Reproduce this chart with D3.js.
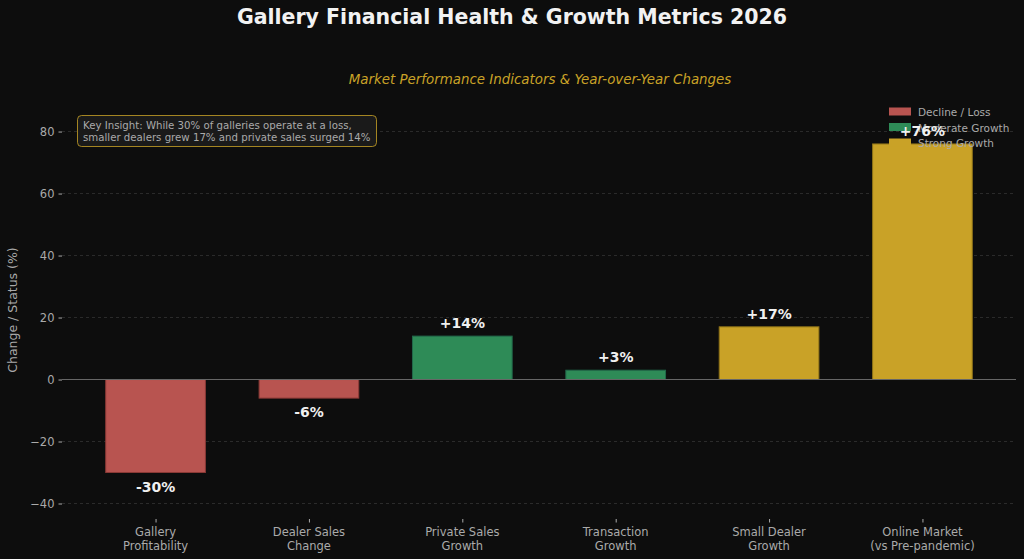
<!DOCTYPE html>
<html><head><meta charset="utf-8">
<script src="https://cdn.jsdelivr.net/npm/d3@7"></script>
<style>body{margin:0;background:#0d0d0d}svg{display:block}text{font-family:"DejaVu Sans",sans-serif}</style>
</head><body><svg id="c" width="1024" height="559"></svg>
<script>
const categories = ["Gallery\nProfitability","Dealer Sales\nChange","Private Sales\nGrowth","Transaction\nGrowth","Small Dealer\nGrowth","Online Market\n(vs Pre-pandemic)"];
const values = [-30, -6, 14, 3, 17, 76];
const groups = ["loss","loss","moderate","moderate","strong","strong"];
const labels = ["-30%","-6%","+14%","+3%","+17%","+76%"];
const yTicks = [-40,-20,0,20,40,60,80];
const legendItems = [["loss","Decline / Loss"],["moderate","Moderate Growth"],["strong","Strong Growth"]];
const colors = {loss:"#b85450", moderate:"#2e8b57", strong:"#c9a227"};
const edges = {loss:"#8a3a36", moderate:"#22684a", strong:"#8f7318"};

const svg = d3.select("#c");
svg.append("rect").attr("width",1024).attr("height",559).attr("fill","#0d0d0d");
const L=62, R=1016, T=99, B=519;
const x = d3.scaleLinear().domain([-0.61,5.61]).range([L,R]);
const y = d3.scaleLinear().domain([-45,90.5]).range([B,T]);
const bw = 0.65;

// grid
svg.append("g").selectAll("line").data(yTicks.filter(d=>d!==0)).join("line")
  .attr("x1",L).attr("x2",R).attr("y1",d=>y(d)).attr("y2",d=>y(d))
  .attr("stroke","#333").attr("stroke-dasharray","3,3").attr("stroke-width",0.8);

// y axis
const ya = svg.append("g").attr("transform",`translate(${L},0)`).call(d3.axisLeft(y).tickValues(yTicks).tickSize(3.5).tickPadding(4).tickFormat(d=>d<0?"\u2212"+Math.abs(d):d));
ya.select(".domain").remove();
ya.selectAll("line").attr("stroke","#aaa");
ya.selectAll("text").attr("fill","#aaa").attr("font-size",11.5);

// x axis ticks
const xa = svg.append("g").attr("transform",`translate(0,${B})`).call(d3.axisBottom(x).tickValues(d3.range(6)).tickSize(3.5).tickFormat(""));
xa.select(".domain").remove();
xa.selectAll("line").attr("stroke","#aaa");
categories.forEach((c,i)=>{
  const t = svg.append("text").attr("x",x(i)).attr("y",536).attr("text-anchor","middle").attr("fill","#aaa").attr("font-size",11.5);
  c.split("\n").forEach((s,j)=>t.append("tspan").attr("x",x(i)).attr("dy",j?13.5:0).text(s));
});

// bars
svg.append("g").selectAll("rect").data(values).join("rect")
  .attr("x",(d,i)=>x(i-bw/2)).attr("width",x(bw)-x(0))
  .attr("y",d=>y(Math.max(0,d))).attr("height",d=>Math.abs(y(d)-y(0)))
  .attr("fill",(d,i)=>colors[groups[i]]).attr("stroke",(d,i)=>edges[groups[i]]).attr("stroke-width",1);

// zero line
svg.append("line").attr("x1",L).attr("x2",R).attr("y1",y(0)).attr("y2",y(0)).attr("stroke","#666").attr("stroke-width",1.2);

// legend
const lg = svg.append("g");
legendItems.forEach((it,i)=>{
  const yy = 112 + i*15.5;
  lg.append("rect").attr("x",889).attr("y",yy-4.5).attr("width",22).attr("height",8).attr("fill",colors[it[0]]);
  lg.append("text").attr("x",918).attr("y",yy+4).attr("fill","#aaa").attr("font-size",10.5).text(it[1]);
});

// value labels
svg.append("g").selectAll("text").data(values).join("text")
  .attr("x",(d,i)=>x(i)).attr("y",d=>d>=0?y(d)-8:y(d)+19)
  .attr("text-anchor","middle").attr("fill","#f0f0f0").attr("font-weight","bold").attr("font-size",14)
  .text((d,i)=>labels[i]);

// y label
svg.append("text").attr("transform","translate(17,310) rotate(-90)").attr("text-anchor","middle").attr("fill","#aaa").attr("font-size",12.5).text("Change / Status (%)");

// titles
svg.append("text").attr("x",512).attr("y",24).attr("text-anchor","middle").attr("fill","#f2f2f2").attr("font-weight","bold").attr("font-size",20.5).text("Gallery Financial Health & Growth Metrics 2026");
svg.append("text").attr("x",540).attr("y",84).attr("text-anchor","middle").attr("fill","#c9a227").attr("font-style","italic").attr("font-size",13.4).text("Market Performance Indicators & Year-over-Year Changes");

// insight box
svg.append("rect").attr("x",77.5).attr("y",115.5).attr("width",299).attr("height",31).attr("rx",4).attr("fill","#1a1a1a").attr("stroke","#c9a227").attr("stroke-opacity",0.8).attr("stroke-width",1);
const it = svg.append("text").attr("x",83).attr("y",129).attr("fill","#aaa").attr("font-size",10.2);
it.append("tspan").attr("x",83).text("Key Insight: While 30% of galleries operate at a loss,");
it.append("tspan").attr("x",83).attr("dy",12).text("smaller dealers grew 17% and private sales surged 14%");
</script></body></html>
